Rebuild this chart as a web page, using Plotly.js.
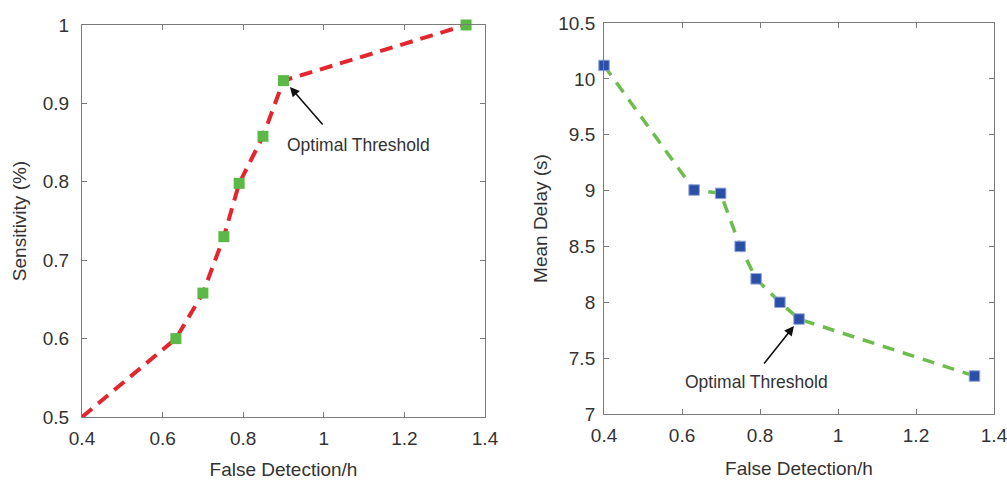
<!DOCTYPE html>
<html>
<head>
<meta charset="utf-8">
<script src="https://cdn.plot.ly/plotly-3.0.1.min.js"></script>
<style>html,body{margin:0;padding:0;background:#fff;}#chart{width:1007px;height:480px;}</style>
</head>
<body>
<div id="chart"></div>
<script>
// Left panel: sensitivity vs false detection rate
var falseDetLineL = [0.40, 0.633, 0.70, 0.752, 0.79, 0.849, 0.90, 1.353];
var sensitivityLine = [0.50, 0.60, 0.658, 0.73, 0.798, 0.858, 0.929, 1.00];
var falseDetPtsL = [0.633, 0.70, 0.752, 0.79, 0.849, 0.90, 1.353];
var sensitivityPts = [0.60, 0.658, 0.73, 0.798, 0.858, 0.929, 1.00];

// Right panel: mean delay vs false detection rate
var falseDetR = [0.40, 0.631, 0.699, 0.749, 0.79, 0.851, 0.90, 1.35];
var meanDelay = [10.12, 9.005, 8.975, 8.50, 8.21, 8.00, 7.85, 7.34];

var xTicks = [0.4, 0.6, 0.8, 1, 1.2, 1.4];
var yTicksL = [0.5, 0.6, 0.7, 0.8, 0.9, 1];
var yTicksR = [7, 7.5, 8, 8.5, 9, 9.5, 10, 10.5];
var annText = 'Optimal Threshold';

var FONT = 'Liberation Sans, Arial, sans-serif';
var TXT = '#333333';
var AX = '#7a7a7a';

var traces = [
  {x: falseDetLineL, y: sensitivityLine, xaxis: 'x', yaxis: 'y', mode: 'lines',
   line: {color: '#e3262d', width: 4, dash: '13px,8px'}, hoverinfo: 'skip'},
  {x: falseDetPtsL, y: sensitivityPts, xaxis: 'x', yaxis: 'y', mode: 'markers', cliponaxis: false,
   marker: {symbol: 'square', size: 11, color: '#5cb947', line: {width: 0}}},
  {x: falseDetR, y: meanDelay, xaxis: 'x2', yaxis: 'y2', mode: 'lines',
   line: {color: '#6cbd4c', width: 3.5, dash: '12px,9px'}, hoverinfo: 'skip'},
  {x: falseDetR, y: meanDelay, xaxis: 'x2', yaxis: 'y2', mode: 'markers', cliponaxis: false,
   marker: {symbol: 'square', size: 10.5, color: '#2b4fa6', line: {width: 1, color: '#8fa6d8'}}}
];

function xax(domain, anchor) {
  return {domain: domain, anchor: anchor, range: [0.4, 1.4], tickvals: xTicks,
    ticks: 'inside', ticklen: 5, tickcolor: AX, showline: true, linecolor: AX, linewidth: 1,
    mirror: 'ticks', showgrid: false, zeroline: false, ticklabelstandoff: 4,
    ticklabeloverflow: 'allow',
    tickfont: {family: FONT, size: 19, color: TXT},
    title: {text: 'False Detection/h', font: {family: FONT, size: 19, color: TXT}, standoff: 16}};
}
function yax(domain, anchor, range, ticks, title, standoff, tstand) {
  return {domain: domain, anchor: anchor, range: range, tickvals: ticks,
    ticks: 'inside', ticklen: 5, tickcolor: AX, showline: true, linecolor: AX, linewidth: 1,
    mirror: 'ticks', showgrid: false, zeroline: false, ticklabelstandoff: standoff,
    tickfont: {family: FONT, size: 19, color: TXT},
    title: {text: title, font: {family: FONT, size: 19, color: TXT}, standoff: tstand}};
}

var layout = {
  width: 1007, height: 480,
  margin: {l: 82, r: 13, t: 23, b: 63},
  paper_bgcolor: '#ffffff', plot_bgcolor: '#ffffff',
  showlegend: false,
  xaxis: xax([0, 0.4419], 'y'),
  yaxis: yax([0, 0.995], 'x', [0.5, 1], yTicksL, 'Sensitivity (%)', 8, 11),
  xaxis2: xax([0.5724, 1], 'y2'),
  yaxis2: yax([0.0076, 1], 'x2', [7, 10.5], yTicksR, 'Mean Delay (s)', 4, 5),
  annotations: [
    {xref: 'x', yref: 'y', x: 0.916, y: 0.921, ax: 34, ay: 39, text: '', showarrow: true,
     arrowhead: 2, arrowsize: 1.2, arrowwidth: 1.6, arrowcolor: '#111111'},
    {xref: 'x', yref: 'y', x: 1.087, y: 0.847, text: annText, showarrow: false,
     font: {family: FONT, size: 17.5, color: TXT}},
    {xref: 'x2', yref: 'y2', x: 0.887, y: 7.787, ax: -31, ay: 39, text: '', showarrow: true,
     arrowhead: 2, arrowsize: 1.2, arrowwidth: 1.6, arrowcolor: '#111111'},
    {xref: 'x2', yref: 'y2', x: 0.791, y: 7.286, text: annText, showarrow: false,
     font: {family: FONT, size: 17.5, color: TXT}}
  ]
};

Plotly.newPlot('chart', traces, layout, {displayModeBar: false, staticPlot: true});
</script>
</body>
</html>
